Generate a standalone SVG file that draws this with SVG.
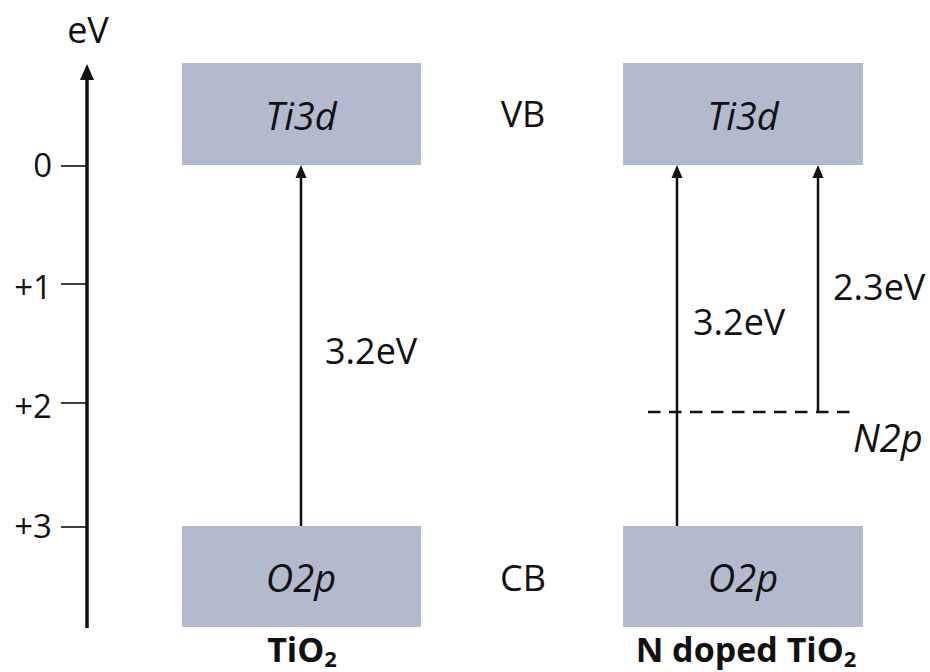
<svg xmlns="http://www.w3.org/2000/svg" width="930" height="672" viewBox="0 0 930 672">
<defs>
<style>
.t{font-family:"Open Sans","Liberation Sans",sans-serif;font-size:36px;fill:#111}
.it{font-style:italic;font-size:38px}
.b{font-weight:bold;font-size:34px}
.tk{font-size:33px}
.box{fill:#b3bace}
.ln{stroke:#111;stroke-width:2.5;fill:none}
.hd{fill:#111}
</style>
</defs>
<rect width="930" height="672" fill="#fff"/>
<g id="axis">
<line x1="87" y1="628" x2="87" y2="78" stroke="#111" stroke-width="3.5"/>
<path d="M80,80 L87,64 L94,80 Z" fill="#111"/>
<text class="t" x="88" y="43" text-anchor="middle">eV</text>
<g stroke="#111" stroke-width="1.6">
<line x1="61" y1="166" x2="87" y2="166"/>
<line x1="61" y1="284" x2="87" y2="284"/>
<line x1="61" y1="403" x2="87" y2="403"/>
<line x1="61" y1="527" x2="87" y2="527"/>
</g>
<text class="t tk" x="52" y="177" text-anchor="end">0</text>
<text class="t tk" x="52" y="299" text-anchor="end">+1</text>
<text class="t tk" x="52" y="418" text-anchor="end">+2</text>
<text class="t tk" x="52" y="538" text-anchor="end">+3</text>
</g>
<g id="ti3d-left">
<rect class="box" x="182" y="63" width="239" height="102"/>
<text class="t it" x="301" y="130" text-anchor="middle">Ti3d</text>
</g>
<g id="o2p-left">
<rect class="box" x="182" y="526" width="239" height="101"/>
<text class="t it" x="301" y="592" text-anchor="middle">O2p</text>
</g>
<g id="ti3d-right">
<rect class="box" x="623" y="63" width="240" height="102"/>
<text class="t it" x="743" y="130" text-anchor="middle">Ti3d</text>
</g>
<g id="o2p-right">
<rect class="box" x="623" y="526" width="240" height="101"/>
<text class="t it" x="743" y="592" text-anchor="middle">O2p</text>
</g>
<g id="n2p">
<line x1="648" y1="412" x2="856" y2="412" stroke="#111" stroke-width="2.5" stroke-dasharray="12.5 8.5"/>
<text class="t it" x="853" y="452">N2p</text>
</g>
<g id="labels">
<text class="t" x="523" y="127" text-anchor="middle">VB</text>
<text class="t" x="523" y="591" text-anchor="middle">CB</text>
<text class="t b" x="302" y="662" text-anchor="middle">TiO<tspan dy="5" style="font-size:22px">2</tspan></text>
<text class="t b" x="746" y="662" text-anchor="middle">N doped TiO<tspan dy="5" style="font-size:22px">2</tspan></text>
</g>
<g id="connectors">
<line class="ln" x1="301" y1="526" x2="301" y2="176"/>
<path class="hd" d="M295.5,178 L301,165 L306.5,178 Z"/>
<line class="ln" x1="677" y1="526" x2="677" y2="176"/>
<path class="hd" d="M671.5,178 L677,165 L682.5,178 Z"/>
<line class="ln" x1="818" y1="412" x2="818" y2="176"/>
<path class="hd" d="M812.5,178 L818,165 L823.5,178 Z"/>
<text class="t" x="325" y="364">3.2eV</text>
<text class="t" x="693" y="335">3.2eV</text>
<text class="t" x="833" y="300">2.3eV</text>
</g>
</svg>
